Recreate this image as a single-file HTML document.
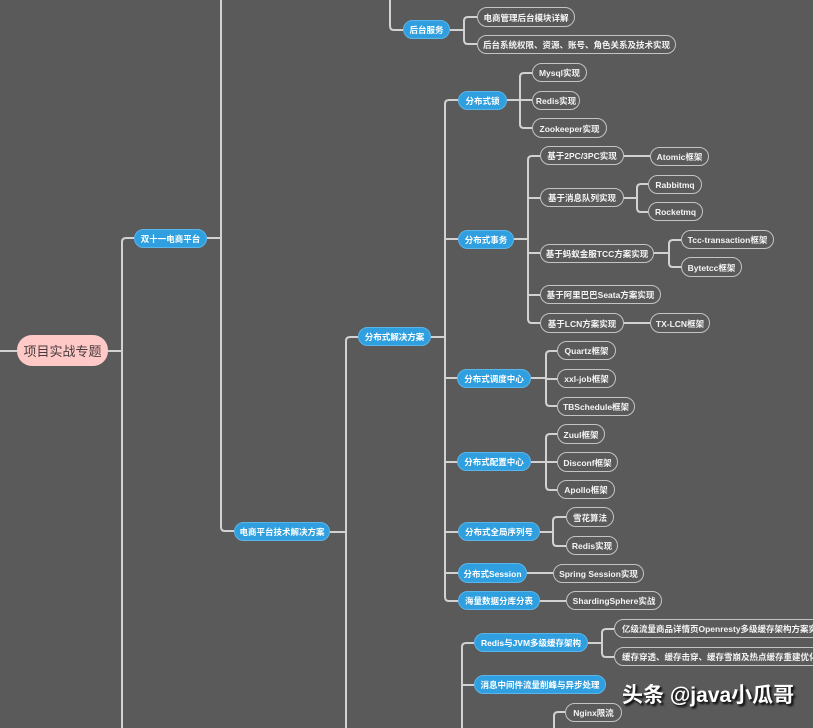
<!DOCTYPE html>
<html>
<head>
<meta charset="utf-8">
<style>
html,body{margin:0;padding:0;}
body{width:813px;height:728px;background:#5a5a5a;position:relative;overflow:hidden;font-family:"Liberation Sans","Noto Sans CJK SC",sans-serif;}
svg{position:absolute;left:0;top:0;}
.n{position:absolute;box-sizing:border-box;border-radius:11px;color:#fff;font-size:8.5px;font-weight:bold;text-align:center;white-space:nowrap;overflow:hidden;display:flex;align-items:center;justify-content:center;padding-top:1px;}
.b{background:#2f9fdf;border:1px solid #5ab6ea;}
.o{background:#5a5a5a;border:1px solid #c4c4c4;color:#f4f4f4;}
.root{position:absolute;left:17px;top:335px;width:91px;height:31px;border-radius:15px;background:#ffc9c8;color:#4a3c3c;font-size:13px;display:flex;align-items:center;justify-content:center;font-family:"Liberation Sans","Noto Sans CJK SC",sans-serif;}
.wm{position:absolute;left:622px;top:679px;font-size:21px;color:#fff;font-weight:bold;text-shadow:1px 1px 0 #222,2px 2px 2px #000;font-family:"Liberation Sans","Noto Sans CJK SC",sans-serif;white-space:nowrap;}
</style>
</head>
<body>
<svg width="813" height="728" viewBox="0 0 813 728" fill="none" stroke="#d2d2d2" stroke-width="2">
<path d="M0 351 H17"/>
<path d="M108 351 H122"/>
<path d="M134 238 H126 Q122 238 122 242 V728"/>
<path d="M207 238 H221"/>
<path d="M221 0 V527 Q221 531 225 531 H234"/>
<path d="M390 0 V26 Q390 30 394 30 H403"/>
<path d="M450 30 H464"/>
<path d="M477 17 H468 Q464 17 464 21 V40 Q464 44 468 44 H477"/>
<path d="M330 532 H346"/>
<path d="M358 337 H350 Q346 337 346 341 V728"/>
<path d="M431 337 H445"/>
<path d="M458 100 H449 Q445 100 445 104 V597 Q445 601 449 601 H458"/>
<path d="M445 239 H458 M445 378 H458 M445 462 H458 M445 532 H458 M445 573 H458"/>
<path d="M507 100 H520"/>
<path d="M532 73 H524 Q520 73 520 77 V124 Q520 128 524 128 H532 M520 100 H532"/>
<path d="M514 239 H528"/>
<path d="M540 156 H532 Q528 156 528 160 V319 Q528 323 532 323 H540 M528 198 H540 M528 253 H540 M528 295 H540"/>
<path d="M624 156 H650"/>
<path d="M624 198 H637"/>
<path d="M648 184 H641 Q637 184 637 188 V208 Q637 212 641 212 H648"/>
<path d="M654 253 H669"/>
<path d="M681 240 H673 Q669 240 669 244 V263 Q669 267 673 267 H681"/>
<path d="M624 323 H650"/>
<path d="M531 378 H546"/>
<path d="M557 351 H550 Q546 351 546 355 V402 Q546 406 550 406 H557 M546 379 H557"/>
<path d="M531 462 H546"/>
<path d="M557 434 H550 Q546 434 546 438 V486 Q546 490 550 490 H557 M546 462 H557"/>
<path d="M540 532 H553"/>
<path d="M566 517 H557 Q553 517 553 521 V542 Q553 546 557 546 H566"/>
<path d="M527 573 H553"/>
<path d="M540 601 H566"/>
<path d="M474 643 H466 Q462 643 462 647 V728 M462 685 H474"/>
<path d="M588 643 H602"/>
<path d="M614 629 H606 Q602 629 602 633 V653 Q602 657 606 657 H614"/>
<path d="M565 712 H558 Q554 712 554 716 V728"/>
</svg>

<div class="root">项目实战专题</div>

<div class="n b" style="left:134px;top:229px;width:73px;height:19px;">双十一电商平台</div>
<div class="n b" style="left:234px;top:522px;width:96px;height:19px;">电商平台技术解决方案</div>
<div class="n b" style="left:358px;top:327px;width:73px;height:19px;">分布式解决方案</div>
<div class="n b" style="left:403px;top:20px;width:47px;height:19px;">后台服务</div>
<div class="n b" style="left:458px;top:91px;width:49px;height:19px;">分布式锁</div>
<div class="n b" style="left:458px;top:230px;width:56px;height:19px;">分布式事务</div>
<div class="n b" style="left:457px;top:369px;width:74px;height:19px;">分布式调度中心</div>
<div class="n b" style="left:457px;top:452px;width:74px;height:19px;">分布式配置中心</div>
<div class="n b" style="left:458px;top:522px;width:82px;height:19px;">分布式全局序列号</div>
<div class="n b" style="left:458px;top:563px;width:69px;height:20px;">分布式Session</div>
<div class="n b" style="left:458px;top:591px;width:82px;height:19px;">海量数据分库分表</div>
<div class="n b" style="left:474px;top:633px;width:114px;height:19px;">Redis与JVM多级缓存架构</div>
<div class="n b" style="left:474px;top:675px;width:132px;height:19px;">消息中间件流量削峰与异步处理</div>

<div class="n o" style="left:477px;top:7px;width:98px;height:20px;">电商管理后台模块详解</div>
<div class="n o" style="left:477px;top:35px;width:199px;height:19px;">后台系统权限、资源、账号、角色关系及技术实现</div>
<div class="n o" style="left:532px;top:63px;width:55px;height:19px;">Mysql实现</div>
<div class="n o" style="left:532px;top:91px;width:48px;height:19px;">Redis实现</div>
<div class="n o" style="left:532px;top:118px;width:75px;height:20px;">Zookeeper实现</div>
<div class="n o" style="left:540px;top:146px;width:84px;height:19px;">基于2PC/3PC实现</div>
<div class="n o" style="left:650px;top:147px;width:59px;height:19px;">Atomic框架</div>
<div class="n o" style="left:540px;top:188px;width:84px;height:19px;">基于消息队列实现</div>
<div class="n o" style="left:648px;top:175px;width:54px;height:19px;">Rabbitmq</div>
<div class="n o" style="left:648px;top:202px;width:55px;height:19px;">Rocketmq</div>
<div class="n o" style="left:540px;top:244px;width:114px;height:19px;">基于蚂蚁金服TCC方案实现</div>
<div class="n o" style="left:681px;top:230px;width:93px;height:19px;">Tcc-transaction框架</div>
<div class="n o" style="left:681px;top:257px;width:61px;height:20px;">Bytetcc框架</div>
<div class="n o" style="left:540px;top:285px;width:121px;height:19px;">基于阿里巴巴Seata方案实现</div>
<div class="n o" style="left:540px;top:313px;width:84px;height:20px;">基于LCN方案实现</div>
<div class="n o" style="left:650px;top:313px;width:60px;height:20px;">TX-LCN框架</div>
<div class="n o" style="left:557px;top:341px;width:59px;height:19px;">Quartz框架</div>
<div class="n o" style="left:557px;top:369px;width:59px;height:19px;">xxl-job框架</div>
<div class="n o" style="left:557px;top:397px;width:78px;height:19px;">TBSchedule框架</div>
<div class="n o" style="left:557px;top:424px;width:48px;height:20px;">Zuul框架</div>
<div class="n o" style="left:557px;top:452px;width:61px;height:20px;">Disconf框架</div>
<div class="n o" style="left:557px;top:480px;width:58px;height:19px;">Apollo框架</div>
<div class="n o" style="left:566px;top:507px;width:48px;height:20px;">雪花算法</div>
<div class="n o" style="left:566px;top:536px;width:52px;height:19px;">Redis实现</div>
<div class="n o" style="left:553px;top:564px;width:91px;height:19px;">Spring Session实现</div>
<div class="n o" style="left:566px;top:591px;width:96px;height:19px;">ShardingSphere实战</div>
<div class="n o" style="left:614px;top:619px;width:216px;height:19px;justify-content:flex-start;padding-left:7px;">亿级流量商品详情页Openresty多级缓存架构方案实现</div>
<div class="n o" style="left:614px;top:647px;width:216px;height:19px;justify-content:flex-start;padding-left:7px;">缓存穿透、缓存击穿、缓存雪崩及热点缓存重建优化</div>
<div class="n o" style="left:565px;top:703px;width:57px;height:19px;">Nginx限流</div>

<div class="wm">头条 @java小瓜哥</div>
</body>
</html>
